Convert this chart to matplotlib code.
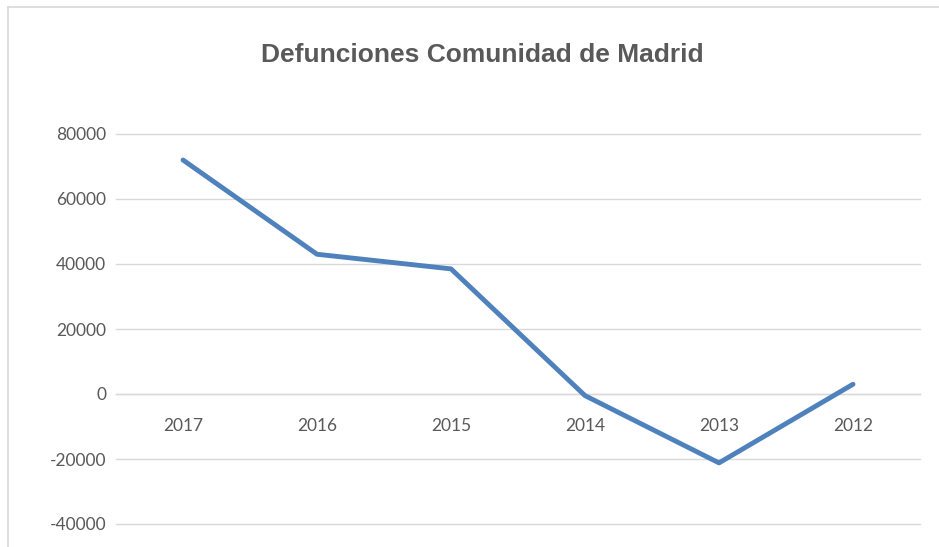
import matplotlib
matplotlib.use("Agg")
import matplotlib.pyplot as plt
from matplotlib.lines import Line2D

years = ["2017", "2016", "2015", "2014", "2013", "2012"]
deaths = [72000, 43000, 38500, -500, -21200, 3000]
yticks = [-40000, -20000, 0, 20000, 40000, 60000, 80000]
title = "Defunciones Comunidad de Madrid"

fig = plt.figure(figsize=(9.39, 5.47), dpi=100)
ax = fig.add_axes([116/939, 1-524/547, (920-116)/939, (524-134)/547])

for s in ["top", "right", "left"]:
    ax.spines[s].set_visible(False)
ax.spines["bottom"].set_position(("data", 0))
ax.spines["bottom"].set_color("#D9D9D9")
ax.spines["bottom"].set_linewidth(1.0)

x = list(range(len(years)))
ax.plot(x, deaths, color="#4F81BD", linewidth=3.5, solid_capstyle="round", solid_joinstyle="round", zorder=3)

ax.set_xlim(-0.5, len(years)-0.5)
ax.set_ylim(yticks[0], yticks[-1])
ax.set_yticks(yticks)
ax.set_yticklabels([str(v) for v in yticks], fontsize=12.5, color="#595959", family=["Lato", "DejaVu Sans"])
ax.set_xticks(x)
ax.set_xticklabels(years, fontsize=12.5, color="#595959", family=["Lato", "DejaVu Sans"])
ax.tick_params(axis="both", length=0)
ax.tick_params(axis="y", pad=7)
ax.tick_params(axis="x", pad=17)
ax.grid(axis="y", color="#D9D9D9", linewidth=1.0)
for gl in ax.get_ygridlines():
    gl.set_clip_on(False)
ax.set_axisbelow(True)

fig.text(482/939, 1-55/547, title, ha="center", va="center", fontsize=19, fontweight="bold",
         color="#595959", family=["Liberation Sans Narrow", "Liberation Sans", "DejaVu Sans"])

# outer chart border (cropped at right/bottom)
fig.add_artist(Line2D([8/939, 8/939], [0, 1-7/547], transform=fig.transFigure, color="#D9D9D9", linewidth=1.2))
fig.add_artist(Line2D([8/939, 1], [1-7/547, 1-7/547], transform=fig.transFigure, color="#D9D9D9", linewidth=1.2))

fig.savefig("out.png", dpi=100)
